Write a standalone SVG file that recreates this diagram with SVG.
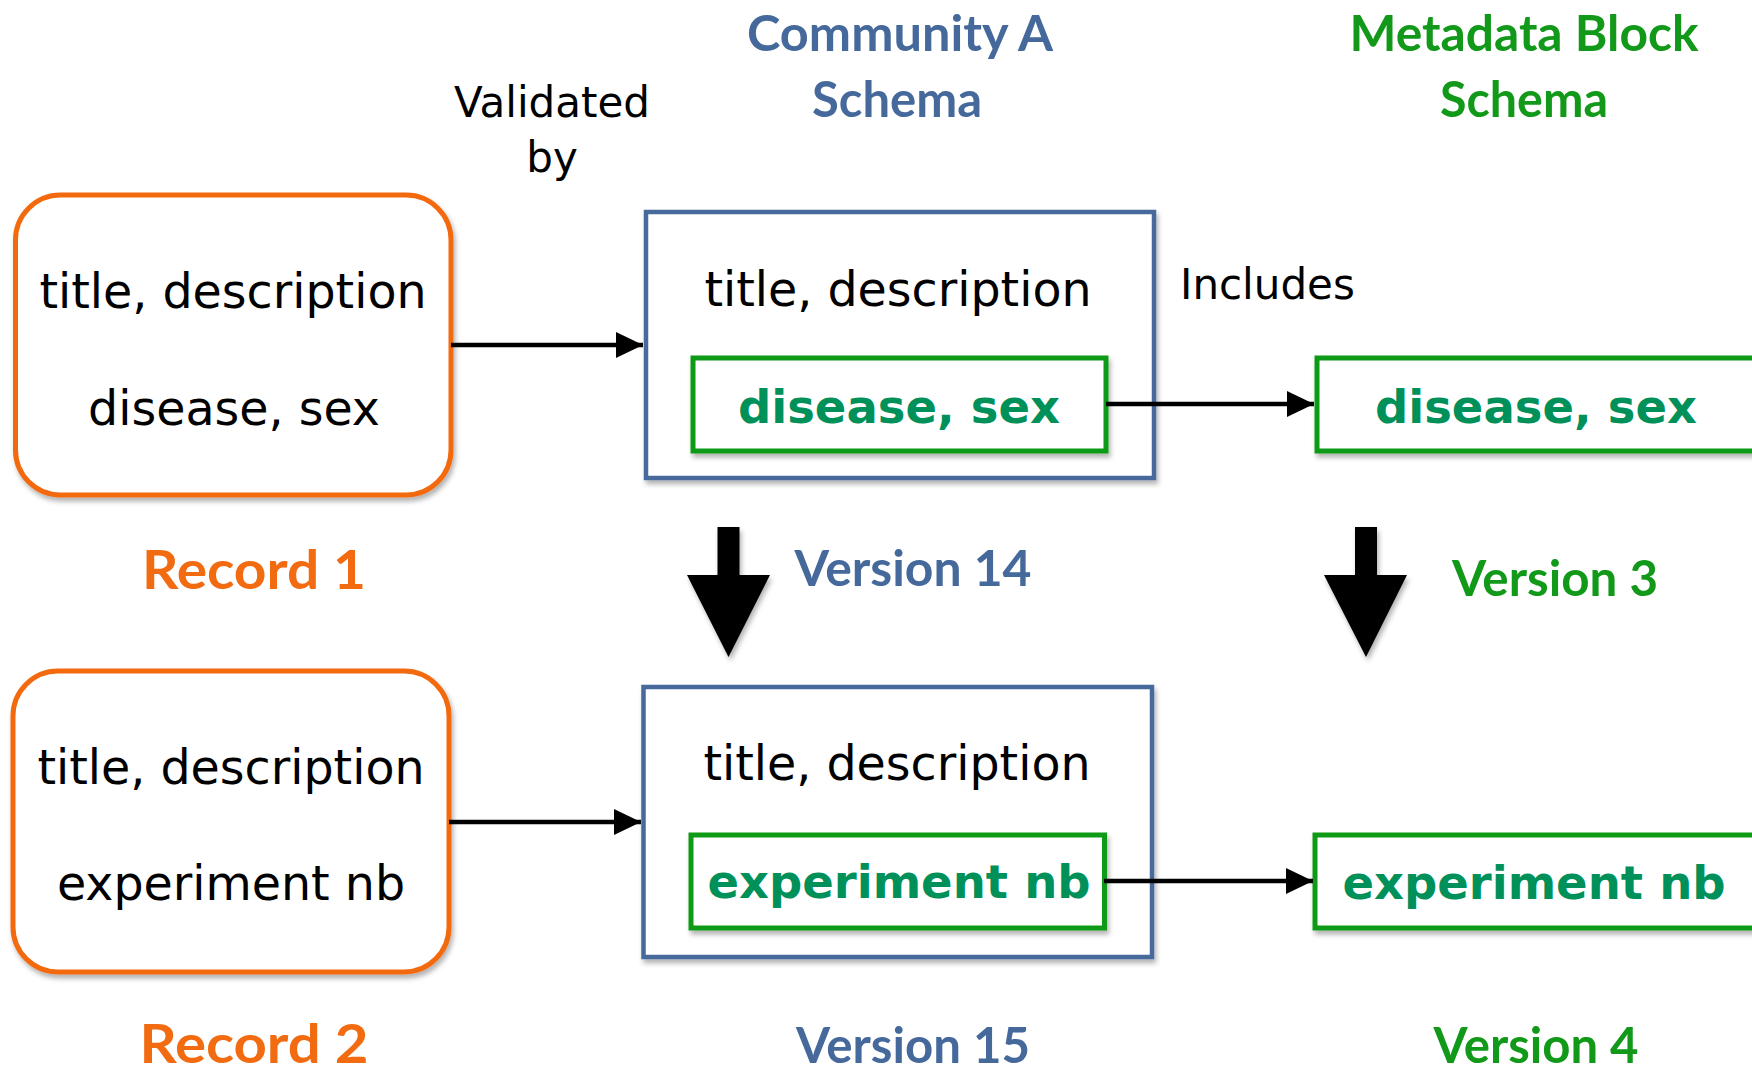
<svg xmlns="http://www.w3.org/2000/svg" width="1752" height="1067" viewBox="0 0 1752 1067">
<style>
.body{font-family:"DejaVu Sans","Liberation Sans",sans-serif;font-size:47.5px;fill:#000;text-anchor:middle}
.lbl{font-family:"DejaVu Sans","Liberation Sans",sans-serif;font-size:42px;fill:#000}
.bold{font-family:"DejaVu Sans","Liberation Sans",sans-serif;font-size:46.5px;font-weight:bold;fill:#00915A;text-anchor:middle}
.hdr{font-family:Lato,"Open Sans",sans-serif;font-size:50px;font-weight:700;text-anchor:middle}
.blue{fill:#46699C}
.green{fill:#12991A}
.rec{font-family:Lato,"Open Sans",sans-serif;font-size:54px;font-weight:700;fill:#F26B11;text-anchor:middle}
.record{fill:#fff;stroke:#F26B11;stroke-width:5}
.schema{fill:#fff;stroke:#46699C;stroke-width:4.5}
.field{fill:#fff;stroke:#0E9A14;stroke-width:5}
.conn{stroke:#000;stroke-width:4.5;fill:none;marker-end:url(#ah)}
</style>
<defs>
<filter id="sh" x="-10%" y="-10%" width="125%" height="130%">
<feDropShadow dx="2" dy="4" stdDeviation="2.5" flood-color="#000" flood-opacity="0.3"/>
</filter>
<marker id="ah" markerUnits="userSpaceOnUse" markerWidth="27" markerHeight="26" refX="27" refY="13" orient="auto">
<path d="M0,0 L27,13 L0,26 z" fill="#000"/>
</marker>
</defs>
<rect width="1752" height="1067" fill="#fff"/>

<g id="header-validated">
<text class="lbl" x="552" y="117" text-anchor="middle">Validated</text>
<text class="lbl" x="552" y="172" text-anchor="middle">by</text>
</g>
<g id="header-community">
<text class="hdr blue" x="900" y="51" textLength="306" lengthAdjust="spacingAndGlyphs">Community A</text>
<text class="hdr blue" x="897" y="117" textLength="170" lengthAdjust="spacingAndGlyphs">Schema</text>
</g>
<g id="header-metadata">
<text class="hdr green" x="1524" y="51" textLength="349" lengthAdjust="spacingAndGlyphs">Metadata Block</text>
<text class="hdr green" x="1524" y="117" textLength="168" lengthAdjust="spacingAndGlyphs">Schema</text>
</g>

<g id="record1">
<rect class="record" x="15.5" y="195" width="435.5" height="300" rx="45" ry="45" filter="url(#sh)"/>
<text class="body" x="233" y="308">title, description</text>
<text class="body" x="234" y="425">disease, sex</text>
<text class="rec" x="254" y="589" textLength="224" lengthAdjust="spacingAndGlyphs">Record 1</text>
</g>

<g id="schema14">
<rect class="schema" x="646" y="212" width="508" height="266" filter="url(#sh)"/>
<text class="body" x="898" y="306">title, description</text>
<g id="schema14-field">
<rect class="field" x="693" y="358" width="413" height="93" filter="url(#sh)"/>
<text class="bold" x="899" y="423">disease, sex</text>
</g>
<text class="hdr blue" x="913" y="586" textLength="237" lengthAdjust="spacingAndGlyphs">Version 14</text>
</g>

<g id="block3">
<rect class="field" x="1317" y="358" width="460" height="93" filter="url(#sh)"/>
<text class="bold" x="1536" y="423">disease, sex</text>
<text class="hdr green" x="1555" y="596" textLength="206" lengthAdjust="spacingAndGlyphs">Version 3</text>
</g>

<g id="includes-label">
<text class="lbl" x="1180" y="299">Includes</text>
</g>

<g id="record2">
<rect class="record" x="13" y="671" width="436" height="301" rx="45" ry="45" filter="url(#sh)"/>
<text class="body" x="231" y="784">title, description</text>
<text class="body" x="231" y="900">experiment nb</text>
<text class="rec" x="254" y="1063" textLength="229" lengthAdjust="spacingAndGlyphs">Record 2</text>
</g>

<g id="schema15">
<rect class="schema" x="643.5" y="687" width="508.5" height="270" filter="url(#sh)"/>
<text class="body" x="897" y="780">title, description</text>
<g id="schema15-field">
<rect class="field" x="691" y="835" width="413.5" height="93" filter="url(#sh)"/>
<text class="bold" x="899" y="898">experiment nb</text>
</g>
<text class="hdr blue" x="913" y="1063" textLength="234" lengthAdjust="spacingAndGlyphs">Version 15</text>
</g>

<g id="block4">
<rect class="field" x="1315" y="835" width="462" height="93" filter="url(#sh)"/>
<text class="bold" x="1534" y="899">experiment nb</text>
<text class="hdr green" x="1536" y="1063" textLength="205" lengthAdjust="spacingAndGlyphs">Version 4</text>
</g>

<g id="connectors">
<line class="conn" x1="451" y1="345" x2="643" y2="345"/>
<line class="conn" x1="1106" y1="404" x2="1314" y2="404"/>
<line class="conn" x1="449" y1="822" x2="641" y2="822"/>
<line class="conn" x1="1104" y1="881" x2="1313" y2="881"/>
<path d="M717.5,527 H739.5 V575 H770 L728.5,657 L687,575 H717.5 Z" fill="#000" filter="url(#sh)"/>
<path d="M1355,527 H1377 V575 H1407 L1366,657 L1324,575 H1355 Z" fill="#000" filter="url(#sh)"/>
</g>
</svg>
